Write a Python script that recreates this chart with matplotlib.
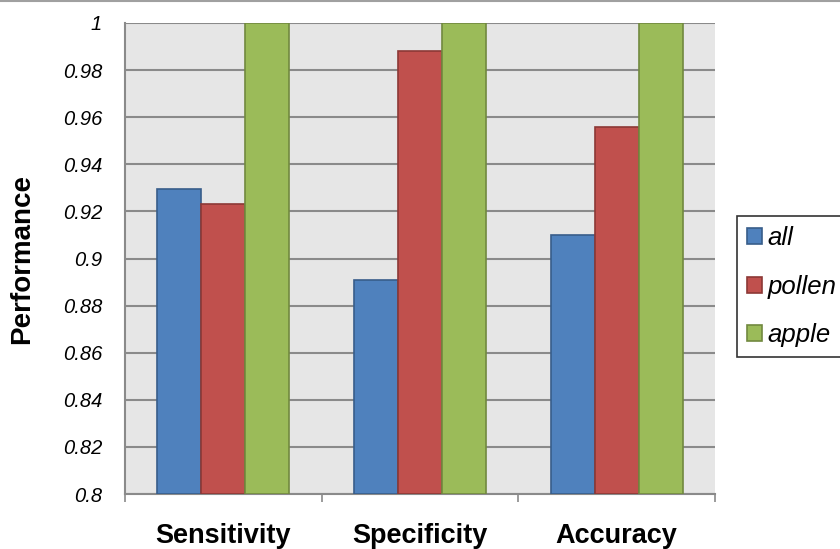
import numpy as np
import matplotlib
matplotlib.use('Agg')
from matplotlib import pyplot as plt
from matplotlib import lines as mlines

# values
categories = ['Sensitivity', 'Specificity', 'Accuracy']
series_names = ['all', 'pollen', 'apple']
all_vals = [0.9294, 0.891, 0.910]
pollen_vals = [0.923, 0.988, 0.956]
apple_vals = [1.0, 1.0, 1.0]
yticks = [0.8, 0.82, 0.84, 0.86, 0.88, 0.9, 0.92, 0.94, 0.96, 0.98, 1]
ytick_labels = ['0.8', '0.82', '0.84', '0.86', '0.88', '0.9', '0.92', '0.94', '0.96', '0.98', '1']

faceColors = ['#4F81BD', '#C0504D', '#9BBB59']
edgeColors = ['#385D8A', '#8C3836', '#71893F']

plt.rcParams['font.family'] = ['Liberation Sans', 'DejaVu Sans']

fig = plt.figure(figsize=(8.4, 5.49), dpi=100)
ax = fig.add_axes([125/840, 1 - 494/549, 590/840, 471/549])
ax.set_facecolor('#E6E6E6')

index = np.arange(len(categories))
width = 0.224
for k, vals in enumerate([all_vals, pollen_vals, apple_vals]):
    ax.bar(index + (k - 1) * width, np.array(vals) - 0.8, width, bottom=0.8,
           color=faceColors[k], edgecolor=edgeColors[k], linewidth=1.2,
           label=series_names[k], zorder=3)

ax.set_ylim(0.8, 1.0)
ax.set_xlim(-0.5, 2.5)
ax.set_yticks(yticks)
ax.set_yticklabels(ytick_labels, fontsize=14.5, style='italic')
ax.yaxis.grid(True, color='#8A8A8A', linewidth=1.5, zorder=1)
ax.tick_params(axis='y', length=0, pad=16.5)

# category ticks at the group boundaries, labels in the middle
ax.set_xticks([-0.5, 0.5, 1.5, 2.5])
ax.set_xticklabels([])
ax.set_xticks(index, minor=True)
ax.set_xticklabels(categories, minor=True, fontsize=19.5, fontweight='bold')
ax.tick_params(axis='x', which='major', length=6, color='#8A8A8A', width=1.2)
ax.tick_params(axis='x', which='minor', length=0, pad=21)

for s in ['top', 'right']:
    ax.spines[s].set_visible(False)
for s in ['left', 'bottom']:
    ax.spines[s].set_color('#8A8A8A')
    ax.spines[s].set_linewidth(1.5)

ax.set_ylabel('Performance', fontsize=20, fontweight='bold')
ax.yaxis.set_label_coords(-0.1525, 0.5)

leg = fig.legend(loc='upper left', bbox_to_anchor=(737/840, 1 - 216/549),
                 prop={'size': 18.5, 'style': 'italic'}, frameon=True, fancybox=False,
                 handlelength=0.57, handleheight=0.57, handletextpad=0.22,
                 labelspacing=0.95, borderpad=0.4, borderaxespad=0)
leg.get_frame().set_edgecolor('black')
leg.get_frame().set_linewidth(1.2)

# thin grey line across the top of the picture
fig.add_artist(mlines.Line2D([0, 1], [0.998, 0.998], color='#A0A0A0', linewidth=1.5,
                             transform=fig.transFigure))

plt.savefig('out.png', dpi=100)
plt.close()
